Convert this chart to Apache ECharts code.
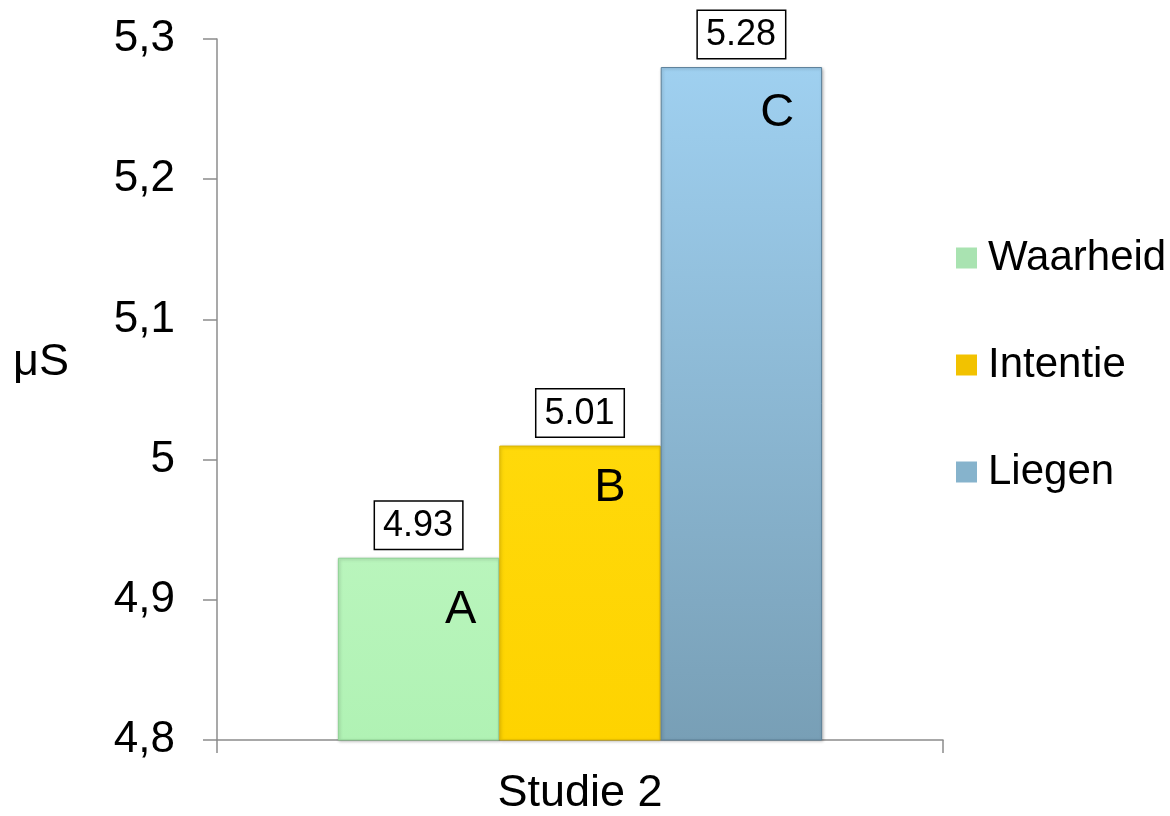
<!DOCTYPE html>
<html>
<head>
<meta charset="utf-8">
<script src="https://cdn.jsdelivr.net/npm/echarts@6/dist/echarts.min.js"></script>
<style>
html,body{margin:0;padding:0;background:#fff;}
#chart{width:1170px;height:816px;}
</style>
</head>
<body>
<div id="chart"></div>
<script>
var categories = ['Studie 2'];
var seriesNames = ['Waarheid', 'Intentie', 'Liegen'];
var values = [4.93, 5.01, 5.28];
var letters = ['A', 'B', 'C'];
var yTicks = { min: 4.8, max: 5.3, interval: 0.1 };

var FONT = 'Arial, "Liberation Sans", sans-serif';
var colors = [
  new echarts.graphic.LinearGradient(0, 0, 0, 1, [
    { offset: 0, color: '#b9f5bc' }, { offset: 1, color: '#b0f2b4' }]),
  new echarts.graphic.LinearGradient(0, 0, 0, 1, [
    { offset: 0, color: '#ffd90a' }, { offset: 1, color: '#fed300' }]),
  new echarts.graphic.LinearGradient(0, 0, 0, 1, [
    { offset: 0, color: '#9fd0f0' }, { offset: 1, color: '#789fb6' }])
];
var borderColors = ['#8fd295', '#d9b200', '#5d8199'];
var legendColors = ['#a9e3b1', '#f2c200', '#86b3cc'];
var letterOffsets = [[-23, 29], [-35, 19], [-28, 23]];

var series = [];
seriesNames.forEach(function (name, i) {
  series.push({
    name: name,
    type: 'bar',
    xAxisIndex: 0,
    barGap: '0%',
    barCategoryGap: '33.3%',
    data: [values[i]],
    itemStyle: {
      color: colors[i],
      borderColor: borderColors[i],
      borderWidth: 1,
      shadowColor: 'rgba(0,0,0,0.25)',
      shadowBlur: 3,
      shadowOffsetX: 1,
      shadowOffsetY: 1
    },
    label: {
      show: true,
      position: 'top',
      distance: 9,
      formatter: function (p) { return p.value.toFixed(2); },
      fontFamily: FONT,
      fontSize: 36,
      lineHeight: 40,
      color: '#000',
      backgroundColor: '#fff',
      borderColor: '#000',
      borderWidth: 1.5,
      padding: [4, 9, 3, 8]
    },
    emphasis: { disabled: true }
  });
});
letters.forEach(function (letter, i) {
  series.push({
    name: 'lbl' + i,
    type: 'bar',
    xAxisIndex: 1,
    barGap: '0%',
    barCategoryGap: '33.3%',
    data: [values[i]],
    silent: true,
    itemStyle: { color: 'rgba(0,0,0,0)' },
    label: {
      show: true,
      position: 'insideTopRight',
      distance: 0,
      offset: letterOffsets[i],
      formatter: letter,
      fontFamily: FONT,
      fontSize: 47,
      color: '#000'
    },
    emphasis: { disabled: true }
  });
});

var chart = echarts.init(document.getElementById('chart'), null, { renderer: 'canvas' });
chart.setOption({
  animation: false,
  backgroundColor: '#fff',
  grid: { left: 217, right: 227, top: 39, bottom: 76, containLabel: false },
  legend: {
    orient: 'vertical',
    left: 951,
    top: 231,
    itemWidth: 21,
    itemHeight: 21,
    itemGap: 63,
    icon: 'rect',
    data: seriesNames.map(function (n, i) {
      return { name: n, itemStyle: { color: legendColors[i], borderColor: '#fff', borderWidth: 0 } };
    }),
    textStyle: {
      fontFamily: FONT,
      fontSize: 42,
      lineHeight: 44,
      color: '#000',
      padding: [0, 0, 0, 6]
    },
    selectedMode: false
  },
  xAxis: [{
    type: 'category',
    data: categories,
    axisLine: { lineStyle: { color: '#8c8c8c', width: 1.5 } },
    axisTick: { show: true, length: 13, lineStyle: { color: '#8c8c8c', width: 1.5 } },
    axisLabel: { fontFamily: FONT, fontSize: 45, color: '#000', margin: 31 }
  }, {
    type: 'category',
    data: categories,
    show: false
  }],
  yAxis: {
    type: 'value',
    min: yTicks.min,
    max: yTicks.max,
    interval: yTicks.interval,
    splitLine: { show: false },
    axisLine: { show: true, lineStyle: { color: '#8c8c8c', width: 1.5 } },
    axisTick: { show: true, length: 14, lineStyle: { color: '#8c8c8c', width: 1.5 } },
    axisLabel: {
      fontFamily: FONT,
      fontSize: 44,
      color: '#000',
      margin: 42,
      formatter: function (v) { return String(Math.round(v * 10) / 10).replace('.', ','); }
    }
  },
  graphic: [{
    type: 'text',
    left: 13,
    top: 340,
    style: { text: 'μS', font: '45px ' + FONT, fill: '#000' }
  }],
  series: series
});
</script>
</body>
</html>
